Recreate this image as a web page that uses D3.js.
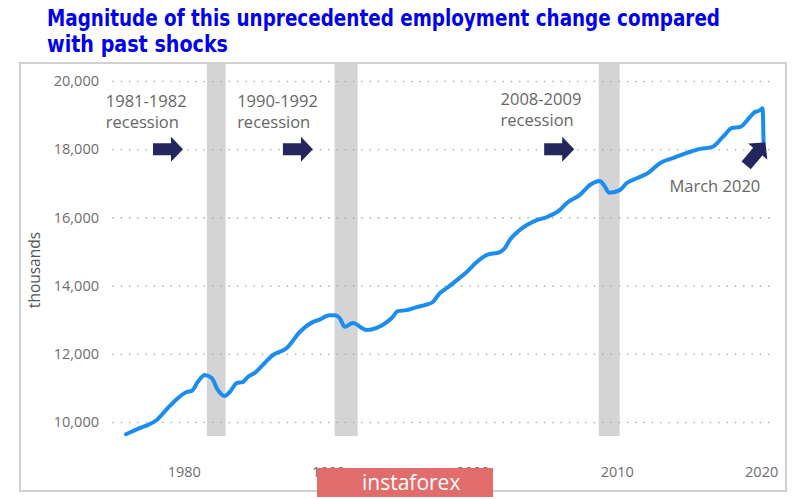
<!DOCTYPE html>
<html>
<head>
<meta charset="utf-8">
<script src="https://cdn.jsdelivr.net/npm/d3@7"></script>
<style>
  body { margin: 0; background: #fff; }
  text { font-family: "Open Sans", "Noto Sans", sans-serif; }
</style>
</head>
<body>
<div class="chart"></div>
<script>
// employment, thousands
const years = [1976.0, 1976.95, 1977.5, 1978.13, 1978.9, 1979.6, 1980.2, 1980.55, 1980.97, 1981.46,
  1981.94, 1982.36, 1982.84, 1983.19, 1983.67, 1984.09, 1984.44, 1984.92, 1985.61, 1986.17,
  1987.14, 1988.04, 1988.94, 1989.4, 1990.1, 1990.45, 1990.8, 1991.16, 1991.71, 1992.68,
  1993.37, 1994.07, 1994.41, 1994.83, 1995.45, 1996.15, 1996.7, 1997.26, 1997.74, 1998.23,
  1998.92, 1999.61, 2000.3, 2001.0, 2001.9, 2002.25, 2002.59, 2003.28, 2004.46, 2005.16,
  2006.06, 2006.54, 2007.44, 2008.14, 2008.83, 2009.1, 2009.5, 2010.21, 2010.7, 2011.39,
  2012.15, 2012.99, 2013.89, 2014.86, 2015.76, 2016.59, 2017.35, 2017.98, 2018.53, 2019.22,
  2019.57, 2019.8, 2020.0, 2020.1, 2020.17];
const employment = [9640, 9820, 9910, 10060, 10410, 10700, 10880, 10910, 11170, 11380,
  11290, 10940, 10760, 10880, 11140, 11170, 11320, 11440, 11730, 11960,
  12170, 12640, 12930, 13000, 13130, 13130, 13050, 12790, 12900, 12700,
  12760, 12930, 13050, 13250, 13280, 13370, 13430, 13520, 13780, 13930,
  14160, 14400, 14690, 14900, 14980, 15100, 15340, 15630, 15920, 16010,
  16220, 16420, 16660, 16950, 17070, 16950, 16720, 16800, 17010, 17150,
  17300, 17590, 17740, 17890, 18010, 18060, 18360, 18620, 18650, 18940,
  19090, 19120, 19170, 19200, 18180];

const recessionStart = [1981.6, 1990.45, 2008.75];
const recessionEnd = [1982.9, 1992.05, 2010.2];
const recessionFloor = 9590;

const yTicks = [10000, 12000, 14000, 16000, 18000, 20000];
const xTicks = [1980, 1990, 2000, 2010, 2020];

// annotations: label lines, where the label sits and where the arrow tip points
const noteLines = [["1981-1982", "recession"], ["1990-1992", "recession"], ["2008-2009", "recession"], ["March 2020"]];
const noteYear = [1974.6, 1983.7, 2001.95, 2013.65];
const noteValue = [19240, 19240, 19300, 16745];
const arrowYear = [1979.95, 1988.95, 2007.05, 2020.3];
const arrowValue = [18000, 18000, 18000, 18200];
const arrowAngle = [0, 0, 0, -50];

const W = 810, H = 499;
const frame = {left: 20, top: 63, right: 786, bottom: 491};

const svg = d3.select('.chart').append('svg')
    .attr('width', W)
    .attr('height', H);

// title
const title = svg.append('text')
    .attr('x', 47)
    .attr('fill', '#0000f0')
    .style('font-family', '"Liberation Sans Narrow", "DejaVu Sans Condensed", sans-serif')
    .style('font-weight', 'bold')
    .style('font-size', '22.5px');
title.append('tspan').attr('x', 47).attr('y', 26)
    .attr('textLength', 673).attr('lengthAdjust', 'spacingAndGlyphs')
    .text('Magnitude of this unprecedented employment change compared');
title.append('tspan').attr('x', 47).attr('y', 52)
    .attr('textLength', 181).attr('lengthAdjust', 'spacingAndGlyphs')
    .text('with past  shocks');

// frame
svg.append('rect')
    .attr('x', frame.left).attr('y', frame.top)
    .attr('width', frame.right - frame.left)
    .attr('height', frame.bottom - frame.top)
    .attr('fill', 'none')
    .attr('stroke', '#d0d0d0')
    .attr('stroke-width', 2);

//Scales
const xScale = d3.scaleLinear().domain([1975.1, 2021.1]).range([113, 777]);
const yScale = d3.scaleLinear().domain([10000, 20000]).range([422, 81]);

// recession bands
svg.selectAll('.band')
    .data(recessionStart)
    .enter()
    .append('rect')
    .attr('class', 'band')
    .attr('x', d => xScale(d))
    .attr('y', frame.top + 1)
    .attr('width', (d, i) => xScale(recessionEnd[i]) - xScale(d))
    .attr('height', yScale(recessionFloor) - frame.top - 1)
    .attr('fill', '#d4d4d4');

// dotted grid + y labels
const yAxis = d3.axisLeft(yScale)
    .tickValues(yTicks)
    .tickFormat(d3.format(','))
    .tickSize(-(xScale.range()[1] - xScale.range()[0]))
    .tickPadding(14);

svg.append('g')
    .attr('class', 'axis y-axis')
    .attr('transform', `translate(${xScale.range()[0]},0)`)
    .call(yAxis)
    .call(g => g.select('.domain').remove())
    .call(g => g.selectAll('line')
        .attr('stroke', '#a8a8a8')
        .attr('stroke-width', 1.6)
        .attr('stroke-linecap', 'round')
        .attr('stroke-dasharray', '0.1,8.2'))
    .call(g => g.selectAll('text')
        .attr('fill', '#6e6e6e')
        .style('font-size', '14.5px'));

// x labels
const xAxis = d3.axisBottom(xScale)
    .tickValues(xTicks)
    .tickFormat(d3.format('d'))
    .tickSize(0);

svg.append('g')
    .attr('class', 'axis x-axis')
    .attr('transform', 'translate(0,464)')
    .call(xAxis)
    .call(g => g.select('.domain').remove())
    .call(g => g.selectAll('text')
        .attr('fill', '#6e6e6e')
        .style('font-size', '14.5px'));

// employment line
const line = d3.line()
    .x((d, i) => xScale(years[i]))
    .y(d => yScale(d))
    .curve(d3.curveMonotoneX);

svg.append('path')
    .datum(employment)
    .attr('fill', 'none')
    .attr('stroke', '#1b8cf0')
    .attr('stroke-width', 4)
    .attr('stroke-linejoin', 'round')
    .attr('stroke-linecap', 'round')
    .attr('d', line);

// y-axis label
svg.append('text')
    .attr('transform', 'translate(40,270) rotate(-90)')
    .attr('text-anchor', 'middle')
    .attr('fill', '#555')
    .style('font-size', '15.5px')
    .text('thousands');

// annotation labels
noteLines.forEach((lines, i) => {
    const t = svg.append('text')
        .attr('fill', '#666')
        .style('font-size', '16.5px');
    lines.forEach((s, j) => {
        t.append('tspan')
            .attr('x', xScale(noteYear[i]))
            .attr('y', yScale(noteValue[i]) + j * 21)
            .text(s);
    });
});

// arrows
const arrowShape = [[0, 0], [-12, -12.5], [-12, -6], [-30, -6], [-30, 6], [-12, 6], [-12, 12.5]];
svg.selectAll('.arrow')
    .data(arrowYear)
    .enter()
    .append('polygon')
    .attr('class', 'arrow')
    .attr('points', arrowShape.map(p => p.join(',')).join(' '))
    .attr('transform', (d, i) => `translate(${xScale(d)},${yScale(arrowValue[i])}) rotate(${arrowAngle[i]})`)
    .attr('fill', '#24265e');

// watermark
svg.append('rect')
    .attr('x', 317).attr('y', 468)
    .attr('width', 176).attr('height', 29)
    .attr('fill', '#e26b6b');
svg.append('text')
    .attr('x', 362).attr('y', 490)
    .attr('fill', '#fff')
    .style('font-size', '21px')
    .text('instaforex');
</script>
</body>
</html>
